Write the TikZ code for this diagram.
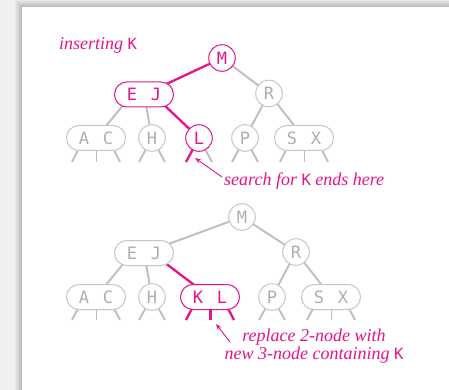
\documentclass[tikz,border=0pt]{standalone}
\usepackage{fontspec}
\setmainfont{Liberation Serif}
\newfontfamily\keyfont{DejaVu Sans Mono}
\newcommand\kkey{{\upshape\keyfont\fontsize{15.5}{15}\selectfont K}}
\usetikzlibrary{shapes.misc,backgrounds,calc,arrows.meta}
\definecolor{hot}{RGB}{230,20,135}
\definecolor{lgray}{RGB}{198,198,198}
\definecolor{tgray}{RGB}{175,175,175}
\definecolor{egray}{RGB}{190,190,190}
\begin{document}
\begin{tikzpicture}[x=1pt,y=-1pt,
  keyf/.style={font=\keyfont\fontsize{17}{17}\selectfont},
  two/.style={circle,draw=lgray,line width=1pt,fill=white,minimum size=26.6pt,inner sep=0pt,text=tgray,keyf},
  three/.style={rounded rectangle,draw=lgray,line width=1pt,fill=white,minimum width=59pt,minimum height=25pt,inner sep=0pt,text=tgray,keyf},
  hl/.style={draw=hot,text=hot},
  gedge/.style={draw=egray,line width=1.9pt},
  pedge/.style={draw=hot,line width=2.3pt},
  note/.style={text=hot,font=\itshape\fontsize{18}{18}\selectfont,inner sep=0pt},
  ptr/.style={draw=hot,line width=0.9pt,-{Stealth[length=6pt,width=4.5pt]}}
]
\useasboundingbox (0,0) rectangle (449,390);
% top tree
\node[two,hl] (M1) at (222,58) {M};
\node[three,hl] (EJ1) at (144,94.5) {E\hspace{14pt}J};
\node[two] (R1) at (269,93.5) {R};
\node[three] (AC1) at (96,138) {A\hspace{14pt}C};
\node[two] (H1) at (152,138) {H};
\node[two,hl] (L1) at (199,138) {L};
\node[two] (P1) at (245,138) {P};
\node[three] (SX1) at (304,138) {S\hspace{14pt}X};
% bottom tree
\node[two] (M2) at (242,217) {M};
\node[three] (EJ2) at (144,253) {E\hspace{14pt}J};
\node[two] (R2) at (296,252) {R};
\node[three] (AC2) at (96,297) {A\hspace{14pt}C};
\node[two] (H2) at (152,297) {H};
\node[three,hl] (KL2) at (210,297) {K\hspace{14pt}L};
\node[two] (P2) at (272,297) {P};
\node[three] (SX2) at (331,297) {S\hspace{14pt}X};
% notes
\node[note,anchor=base west] (ins) at (59,50) {inserting \kkey};
\node[note,anchor=base west] (srch) at (224,185.5) {search for \kkey{} ends here};
\node[note,anchor=base] (rep1) at (314,341) {replace 2-node with};
\node[note,anchor=base] (rep2) at (314,359.5) {new 3-node containing \kkey};
\coordinate (t1) at (222,177);
\coordinate (h1) at (195,158);
\coordinate (t2) at (230,342);
\coordinate (h2) at (216,324);
\draw[ptr] (t1) -- (h1);
\draw[ptr] (t2) -- (h2);
\begin{scope}[on background layer]
  \fill[black!6] (0,0) rectangle (449,390);
  \foreach \i in {1,...,7} \fill[black,opacity=0.03] (22-\i,7-\i) rectangle (449,390);
  \fill[white] (22,7) rectangle (449,390);
  % top edges
  \draw[pedge] (M1.center) -- (EJ1.center);
  \draw[gedge] (M1.center) -- (R1.center);
  \draw[gedge] ($(EJ1.center)+(-12,0)$) -- (AC1.center);
  \draw[gedge] (EJ1.center) -- (H1.center);
  \draw[pedge] ($(EJ1.center)+(9,0)$) -- (L1.center);
  \draw[gedge] (R1.center) -- (P1.center);
  \draw[gedge] (R1.center) -- (SX1.center);
  \foreach \n in {H1,P1} {
    \draw[gedge] (\n.center) -- ++(-13,24);
    \draw[gedge] (\n.center) -- ++(13,24);
  }
  \draw[pedge] (L1.center) -- ++(-13,24);
  \draw[gedge] (L1.center) -- ++(13,24);
  \foreach \n in {AC1,SX1} {
    \draw[gedge] ($(\n.center)+(-12,0)$) -- ++(-12,24);
    \draw[gedge] ($(\n.center)+(0.5,0)$) -- ++(0,24);
    \draw[gedge] ($(\n.center)+(12,0)$) -- ++(12,24);
  }
  % bottom edges
  \draw[gedge] (M2.center) -- (EJ2.center);
  \draw[gedge] (M2.center) -- (R2.center);
  \draw[gedge] ($(EJ2.center)+(-12,0)$) -- (AC2.center);
  \draw[gedge] (EJ2.center) -- (H2.center);
  \draw[pedge] ($(EJ2.center)+(8,0)$) -- (KL2.center);
  \draw[gedge] (R2.center) -- (P2.center);
  \draw[gedge] (R2.center) -- (SX2.center);
  \foreach \n in {H2,P2} {
    \draw[gedge] (\n.center) -- ++(-13,23);
    \draw[gedge] (\n.center) -- ++(13,23);
  }
  \foreach \n in {AC2,SX2} {
    \draw[gedge] ($(\n.center)+(-12,0)$) -- ++(-12,23);
    \draw[gedge] ($(\n.center)+(0.5,0)$) -- ++(0,23);
    \draw[gedge] ($(\n.center)+(12,0)$) -- ++(12,23);
  }
  \draw[pedge] ($(KL2.center)+(-12,0)$) -- ++(-12,23);
  \draw[pedge] ($(KL2.center)+(0.5,0)$) -- ++(0,23);
  \draw[pedge] ($(KL2.center)+(12,0)$) -- ++(12,23);
\end{scope}
\end{tikzpicture}
\end{document}
